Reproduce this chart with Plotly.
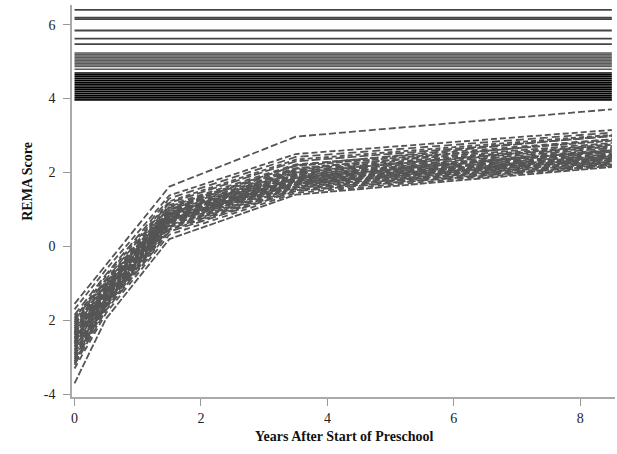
import plotly.graph_objects as go

# Time points (years after start of preschool)
years = [0, 0.5, 1.5, 3.5, 8.5]

# Individual REMA trajectories: values at each time point
y_t0 = [-1.55, -1.70, -1.85, -1.95, -2.00, -2.05, -2.10, -2.15, -2.20, -2.22,
        -2.25, -2.30, -2.32, -2.35, -2.38, -2.40, -2.45, -2.48, -2.50, -2.55,
        -2.58, -2.60, -2.65, -2.70, -2.72, -2.78, -2.82, -2.88, -2.95, -3.00,
        -3.05, -3.10, -3.20, -3.30, -3.70, -2.90, -2.05, -3.15, -1.90, -2.60]
y_t05 = [-0.50, -0.62, -0.75, -0.80, -0.88, -0.92, -0.98, -1.02, -1.05, -1.08,
         -1.12, -1.15, -1.18, -1.20, -1.22, -1.25, -1.28, -1.30, -1.32, -1.35,
         -1.38, -1.40, -1.42, -1.45, -1.48, -1.50, -1.52, -1.55, -1.58, -1.60,
         -1.62, -1.66, -1.72, -1.80, -1.95, -1.45, -1.05, -1.55, -0.95, -1.20]
y_t15 = [1.62, 1.38, 1.30, 1.22, 1.18, 1.12, 1.08, 1.05, 1.00, 0.98,
         0.95, 0.92, 0.90, 0.88, 0.86, 0.84, 0.82, 0.80, 0.78, 0.76,
         0.74, 0.72, 0.70, 0.68, 0.66, 0.64, 0.62, 0.58, 0.55, 0.52,
         0.48, 0.45, 0.40, 0.32, 0.20, 0.85, 0.75, 0.70, 0.90, 1.00]
y_t35 = [2.97, 2.50, 2.42, 2.35, 2.30, 2.22, 2.18, 2.12, 2.08, 2.05,
         2.02, 1.98, 1.95, 1.93, 1.90, 1.88, 1.86, 1.84, 1.82, 1.80,
         1.78, 1.76, 1.74, 1.72, 1.70, 1.68, 1.66, 1.63, 1.60, 1.58,
         1.55, 1.52, 1.50, 1.45, 1.40, 2.10, 1.70, 1.85, 2.00, 2.20]
y_t85 = [3.71, 3.15, 3.08, 3.02, 2.98, 2.90, 2.86, 2.80, 2.76, 2.72,
         2.70, 2.66, 2.62, 2.60, 2.58, 2.56, 2.53, 2.50, 2.48, 2.46,
         2.44, 2.42, 2.40, 2.38, 2.36, 2.34, 2.33, 2.30, 2.28, 2.26,
         2.24, 2.22, 2.20, 2.18, 2.15, 2.90, 2.40, 2.60, 2.75, 3.00]

# Horizontal reference lines at top of chart
hline_grey = [6.40, 6.19, 6.15, 5.84, 5.62, 5.47]
hline_band = [5.23, 5.19, 5.15, 5.11, 5.07, 5.03, 4.99, 4.95, 4.91, 4.87, 4.79]
hline_black = [4.69, 4.64, 4.59, 4.54, 4.49, 4.44, 4.39, 4.34, 4.29, 4.24,
               4.19, 4.14, 4.09, 4.04, 3.99, 3.96]
hline_x = [0, 8.5]

x_ticks = [0, 2, 4, 6, 8]
y_ticks = [-4, -2, 0, 2, 4, 6]
y_ticktext = ["-4", "2", "0", "2", "4", "6"]

# dash patterns cycled to give a mottled look
dash_styles = ["7px,3px", "6px,3px", "8px,4px", "5px,3px", "9px,3px", "6px,4px", "7px,2px"]

fig = go.Figure()

for i, vals in enumerate(zip(y_t0, y_t05, y_t15, y_t35, y_t85)):
    fig.add_trace(go.Scatter(x=years, y=list(vals), mode="lines",
                             line=dict(color="#555555", width=1.8,
                                       dash=dash_styles[i % len(dash_styles)]),
                             hoverinfo="skip", showlegend=False))

for yv in hline_grey:
    fig.add_trace(go.Scatter(x=hline_x, y=[yv, yv], mode="lines",
                             line=dict(color="#444444", width=1.8),
                             hoverinfo="skip", showlegend=False))
for yv in hline_band:
    fig.add_trace(go.Scatter(x=hline_x, y=[yv, yv], mode="lines",
                             line=dict(color="#5a5a5a", width=1.5),
                             hoverinfo="skip", showlegend=False))
for yv in hline_black:
    fig.add_trace(go.Scatter(x=hline_x, y=[yv, yv], mode="lines",
                             line=dict(color="#000000", width=1.6),
                             hoverinfo="skip", showlegend=False))

fig.update_layout(
    width=617, height=454,
    margin=dict(l=72, r=2, t=5, b=57),
    paper_bgcolor="white", plot_bgcolor="white",
    font=dict(family="Liberation Serif", size=14, color="#222222"),
    showlegend=False,
    xaxis=dict(range=[-0.04, 8.55], tickvals=x_ticks, ticks="outside", ticklen=7,
               tickcolor="#999999", showline=True, linecolor="#aaaaaa", linewidth=1.5,
               showgrid=False, zeroline=False, tickfont=dict(size=14)),
    yaxis=dict(range=[-4.07, 6.53], tickvals=y_ticks, ticktext=y_ticktext,
               ticks="outside", ticklen=7, tickcolor="#999999", showline=True,
               linecolor="#aaaaaa", linewidth=1.5, showgrid=False, zeroline=False,
               tickfont=dict(size=14), ticklabelstandoff=5),
    annotations=[
        dict(text="<b>Years After Start of Preschool</b>", xref="paper", yref="paper",
             x=0.5, y=-0.1, xanchor="center", yanchor="middle", showarrow=False,
             font=dict(family="Liberation Serif", size=14, color="#111111")),
        dict(text="<b>REMA Score</b>", xref="paper", yref="y",
             x=-0.081, y=1.75, xanchor="center", yanchor="middle", showarrow=False,
             textangle=-90,
             font=dict(family="Liberation Serif", size=14, color="#111111")),
    ],
)

fig.write_html("out.html", config={"displayModeBar": False},
               post_script="document.body.style.margin='0px';")
